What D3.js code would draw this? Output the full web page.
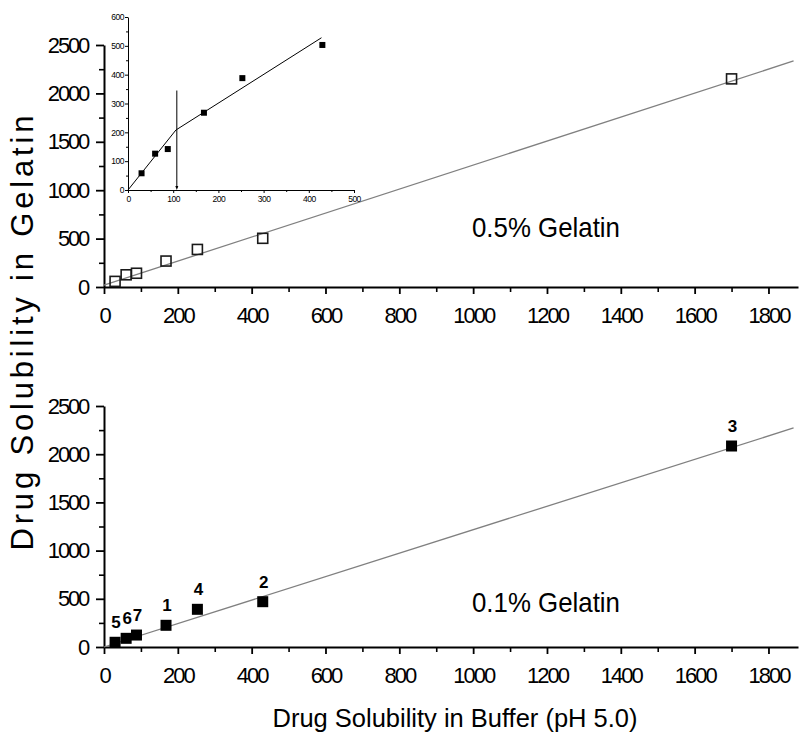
<!DOCTYPE html>
<meta charset="utf-8">
<head>
<script src="https://d3js.org/d3.v7.min.js"></script>
<style type="text/css">
  body { margin: 0; background: #fff; }
  svg text { font-family: "Liberation Sans", Arial, sans-serif; fill: #000; }
  .axis path, .axis line { stroke: #000; }
</style>
</head>
<body>
<div id="my_dataviz"></div>
<script>

// drug solubility in buffer (pH 5.0), one value per drug
var bufferSol = [30, 60, 88, 168, 253, 430, 1700];
// solubility in 0.5% gelatin
var gel05 = [58, 126, 142, 268, 388, 503, 2150];
// solubility in 0.1% gelatin
var gel01 = [49, 90, 124, 225, 391, 470, 2085];
// drug numbers written over the 0.1% points
var drugLabels = ["5", "6", "7", "1", "4", "2", "3"];

// fitted lines (end points)
var fitX = [0, 1868];
var fit05Y = [20, 2335];
var fit01Y = [0, 2272];

// inset: first six drugs, two-segment fit and break marker
var insetFitX = [0, 106, 428];
var insetFitY = [0, 208, 528];
var breakX = 108, breakTop = 345;

var xTicks = [0, 200, 400, 600, 800, 1000, 1200, 1400, 1600, 1800];
var yTicks = [0, 500, 1000, 1500, 2000, 2500];
var insetXTicks = [0, 100, 200, 300, 400, 500];
var insetYTicks = [0, 100, 200, 300, 400, 500, 600];

var W = 801, H = 736;

var svg = d3.select("#my_dataviz")
  .append("svg")
    .attr("width", W)
    .attr("height", H);

// scales
var x = d3.scaleLinear().domain([0, 1880]).range([104, 798]);
var yTop = d3.scaleLinear().domain([0, 2500]).range([287, 45]);
var yBot = d3.scaleLinear().domain([0, 2500]).range([647, 406]);

var xMinor = d3.range(100, 1880, 200);
var yMinor = d3.range(250, 2500, 500);

function drawAxes(y) {
  var y0 = y(0);
  // minor ticks
  svg.append("g").attr("class", "axis")
    .attr("transform", "translate(0," + y0 + ")")
    .call(d3.axisBottom(x).tickValues(xMinor).tickSize(5).tickFormat("").tickSizeOuter(0))
    .call(function(g) { g.select(".domain").remove(); g.selectAll("line").attr("stroke-width", 1.6); });
  svg.append("g").attr("class", "axis")
    .attr("transform", "translate(" + x(0) + ",0)")
    .call(d3.axisLeft(y).tickValues(yMinor).tickSize(5).tickFormat("").tickSizeOuter(0))
    .call(function(g) { g.select(".domain").remove(); g.selectAll("line").attr("stroke-width", 1.6); });

  // major ticks
  var gx = svg.append("g").attr("class", "axis")
    .attr("transform", "translate(0," + y0 + ")")
    .call(d3.axisBottom(x).tickValues(xTicks).tickSize(7).tickPadding(13).tickSizeOuter(0).tickFormat(d3.format("d")));
  gx.select(".domain").attr("stroke-width", 2);
  gx.selectAll("line").attr("stroke-width", 1.8);
  gx.selectAll("text").style("font-size", "22px").style("letter-spacing", "-2px");

  var gy = svg.append("g").attr("class", "axis")
    .attr("transform", "translate(" + x(0) + ",0)")
    .call(d3.axisLeft(y).tickValues(yTicks).tickSize(8).tickPadding(8).tickSizeOuter(0).tickFormat(d3.format("d")));
  gy.select(".domain").attr("stroke-width", 2);
  gy.selectAll("line").attr("stroke-width", 1.8);
  gy.selectAll("text").style("font-size", "22px").style("letter-spacing", "-2.2px");
}

drawAxes(yTop);
drawAxes(yBot);

var line = function(y) {
  return d3.line().x(function(d) { return x(d[0]); }).y(function(d) { return y(d[1]); });
};

// ---- top panel : 0.5% gelatin
svg.append("path")
  .datum(d3.zip(fitX, fit05Y))
  .attr("fill", "none")
  .attr("stroke", "#808080")
  .attr("stroke-width", 1.3)
  .attr("d", line(yTop));

svg.append("g").selectAll("rect")
  .data(d3.zip(bufferSol, gel05))
  .enter().append("rect")
    .attr("x", function(d) { return x(d[0]) - 5; })
    .attr("y", function(d) { return yTop(d[1]) - 5; })
    .attr("width", 10)
    .attr("height", 10)
    .attr("fill", "none")
    .attr("stroke", "#1a1a1a")
    .attr("stroke-width", 1.6);

svg.append("text")
  .attr("x", 546).attr("y", 237)
  .attr("text-anchor", "middle")
  .attr("textLength", 148)
  .attr("lengthAdjust", "spacingAndGlyphs")
  .style("font-size", "28px")
  .text("0.5% Gelatin");

// ---- bottom panel : 0.1% gelatin
svg.append("path")
  .datum(d3.zip(fitX, fit01Y))
  .attr("fill", "none")
  .attr("stroke", "#808080")
  .attr("stroke-width", 1.3)
  .attr("d", line(yBot));

svg.append("g").selectAll("rect")
  .data(d3.zip(bufferSol, gel01))
  .enter().append("rect")
    .attr("x", function(d) { return x(d[0]) - 5.5; })
    .attr("y", function(d) { return yBot(d[1]) - 5.5; })
    .attr("width", 11)
    .attr("height", 11)
    .attr("fill", "#000");

svg.append("g").selectAll("text")
  .data(d3.zip(bufferSol, gel01, drugLabels))
  .enter().append("text")
    .attr("x", function(d) { return x(d[0]) + 1; })
    .attr("y", function(d) { return yBot(d[1]) - 14; })
    .attr("text-anchor", "middle")
    .style("font-size", "17px")
    .style("font-weight", "bold")
    .text(function(d) { return d[2]; });

svg.append("text")
  .attr("x", 546).attr("y", 612)
  .attr("text-anchor", "middle")
  .attr("textLength", 148)
  .attr("lengthAdjust", "spacingAndGlyphs")
  .style("font-size", "28px")
  .text("0.1% Gelatin");

// ---- axis titles
svg.append("text")
  .attr("transform", "translate(33,333) rotate(-90)")
  .attr("text-anchor", "middle")
  .attr("textLength", 435)
  .attr("lengthAdjust", "spacing")
  .style("font-size", "31px")
  .text("Drug Solubility in Gelatin");

svg.append("text")
  .attr("x", 455).attr("y", 727)
  .attr("text-anchor", "middle")
  .attr("textLength", 365)
  .attr("lengthAdjust", "spacingAndGlyphs")
  .style("font-size", "26px")
  .text("Drug Solubility in Buffer (pH 5.0)");

// ---- inset
var ix = d3.scaleLinear().domain([0, 500]).range([128, 354]);
var iy = d3.scaleLinear().domain([0, 600]).range([190, 17]);

var inset = svg.append("g");

inset.append("g").attr("class", "axis")
  .attr("transform", "translate(0," + iy(0) + ")")
  .call(d3.axisBottom(ix).tickValues(d3.range(50, 500, 100)).tickSize(2).tickFormat("").tickSizeOuter(0))
  .call(function(g) { g.select(".domain").remove(); });
inset.append("g").attr("class", "axis")
  .attr("transform", "translate(" + ix(0) + ",0)")
  .call(d3.axisLeft(iy).tickValues(d3.range(50, 600, 100)).tickSize(2).tickFormat("").tickSizeOuter(0))
  .call(function(g) { g.select(".domain").remove(); });

var igx = inset.append("g").attr("class", "axis")
  .attr("transform", "translate(0," + iy(0) + ")")
  .call(d3.axisBottom(ix).tickValues(insetXTicks).tickSize(3).tickPadding(3).tickSizeOuter(0));
igx.selectAll("text").style("font-size", "8.5px").style("letter-spacing", "-0.5px");

var igy = inset.append("g").attr("class", "axis")
  .attr("transform", "translate(" + ix(0) + ",0)")
  .call(d3.axisLeft(iy).tickValues(insetYTicks).tickSize(3).tickPadding(1).tickSizeOuter(0));
igy.selectAll("text").style("font-size", "8.5px").style("letter-spacing", "-0.5px");

inset.append("path")
  .datum(d3.zip(insetFitX, insetFitY))
  .attr("fill", "none")
  .attr("stroke", "#000")
  .attr("stroke-width", 1)
  .attr("d", d3.line().x(function(d) { return ix(d[0]); }).y(function(d) { return iy(d[1]); }));

// break marker: vertical line with small arrow head on the axis
inset.append("line")
  .attr("x1", ix(breakX)).attr("x2", ix(breakX))
  .attr("y1", iy(breakTop)).attr("y2", iy(0) - 2)
  .attr("stroke", "#000")
  .attr("stroke-width", 1);
inset.append("path")
  .attr("d", d3.line()([[ix(breakX) - 1.5, iy(0) - 4], [ix(breakX) + 1.5, iy(0) - 4], [ix(breakX), iy(0)]]))
  .attr("fill", "#000");

inset.append("g").selectAll("rect")
  .data(d3.zip(bufferSol.slice(0, 6), gel05.slice(0, 6)))
  .enter().append("rect")
    .attr("x", function(d) { return ix(d[0]) - 3; })
    .attr("y", function(d) { return iy(d[1]) - 3; })
    .attr("width", 6)
    .attr("height", 6)
    .attr("fill", "#000");

</script>
</body>
</html>
